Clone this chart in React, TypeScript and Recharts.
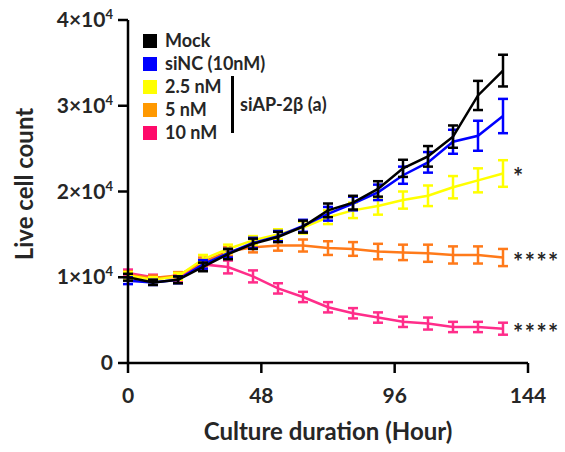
import { LineChart, Line, XAxis, YAxis, ErrorBar, LabelList, Label } from 'recharts'

const HOURS = [0, 9, 18, 27, 36, 45, 54, 63, 72, 81, 90, 99, 108, 117, 126, 135]

const MOCK = [10000, 9400, 9700, 11200, 12700, 13900, 14700, 15900, 17800, 18700, 20300, 22700, 24100, 26400, 31200, 34100]
const MOCK_ERR = [400, 300, 400, 500, 600, 600, 600, 700, 800, 800, 900, 1000, 1200, 1300, 1700, 1850]
const SINC = [9600, 9400, 9700, 11500, 12800, 14000, 14800, 16000, 17400, 18600, 19900, 21900, 23400, 25800, 26500, 28800]
const SINC_ERR = [400, 300, 400, 500, 500, 600, 600, 700, 800, 800, 900, 1000, 1200, 1400, 1750, 2000]
const NM25 = [10200, 9700, 10100, 12100, 13300, 14300, 15000, 15800, 17000, 17800, 18300, 19000, 19500, 20500, 21300, 22100]
const NM25_ERR = [400, 300, 400, 500, 500, 500, 600, 700, 800, 900, 1000, 1000, 1200, 1300, 1400, 1550]
const NM5 = [10300, 9900, 10200, 11800, 13000, 13500, 13700, 13700, 13400, 13300, 13000, 12900, 12800, 12600, 12600, 12300]
const NM5_ERR = [400, 300, 400, 500, 500, 600, 600, 700, 800, 800, 900, 900, 1000, 1000, 1000, 1000]
const NM10 = [10500, 10000, 10000, 11500, 11200, 10100, 8700, 7700, 6500, 5800, 5300, 4800, 4600, 4200, 4200, 4000]
const NM10_ERR = [400, 300, 400, 500, 750, 700, 600, 600, 600, 600, 600, 600, 700, 600, 600, 700]

const X_TICKS = [0, 48, 96, 144]
const Y_TICKS = [0, 10000, 20000, 30000, 40000]

const FONT = 'Lato, "Open Sans", sans-serif'
const TEXT = '#262626'

// drawn back to front, so Mock ends up on top
const SERIES = [
  { key: 'nm10', label: '10 nM', values: NM10, err: NM10_ERR, color: '#FF2D8A', swatch: '#FF0A6A', stars: '****' },
  { key: 'nm5', label: '5 nM', values: NM5, err: NM5_ERR, color: '#FF7A1A', swatch: '#FF9900', stars: '****' },
  { key: 'nm25', label: '2.5 nM', values: NM25, err: NM25_ERR, color: '#FFFF00', swatch: '#FFFF00', stars: '*' },
  { key: 'sinc', label: 'siNC (10nM)', values: SINC, err: SINC_ERR, color: '#0000FF', swatch: '#0000FF', stars: '' },
  { key: 'mock', label: 'Mock', values: MOCK, err: MOCK_ERR, color: '#000000', swatch: '#000000', stars: '' },
]

const LEGEND_ORDER = ['mock', 'sinc', 'nm25', 'nm5', 'nm10']

const data = HOURS.map((h, i) => {
  const row: Record<string, number> = { hour: h }
  SERIES.forEach((s) => {
    row[s.key] = s.values[i]
    row[s.key + 'Err'] = s.err[i]
  })
  return row
})

function YTick(props: any) {
  const { x, y, payload } = props
  const v = payload.value
  if (v === 0) {
    return (
      <text x={x} y={y + 7} textAnchor="end" fontFamily={FONT} fontWeight={700} fontSize={21} fill={TEXT}>
        0
      </text>
    )
  }
  return (
    <text x={x} y={y + 7} textAnchor="end" fontFamily={FONT} fontWeight={700} fontSize={21} fill={TEXT}>
      {`${v / 10000}×10`}
      <tspan fontSize={13} dy={-8}>4</tspan>
    </text>
  )
}

function XTick(props: any) {
  const { x, y, payload } = props
  return (
    <text x={x} y={y + 16} textAnchor="middle" fontFamily={FONT} fontWeight={700} fontSize={21} fill={TEXT}>
      {payload.value}
    </text>
  )
}

function Legend() {
  const rows = LEGEND_ORDER.map((k) => SERIES.find((s) => s.key === k)!)
  return (
    <div style={{ position: 'absolute', left: 143, top: 29, fontFamily: FONT, fontWeight: 700, fontSize: 18, color: TEXT }}>
      {rows.map((s) => (
        <div key={s.key} style={{ display: 'flex', alignItems: 'center', height: 23 }}>
          <div style={{ width: 14, height: 14, background: s.swatch, marginRight: 8 }} />
          <span style={{ lineHeight: '23px' }}>{s.label}</span>
        </div>
      ))}
      <div style={{ position: 'absolute', left: 88, top: 47, width: 3, height: 57, background: '#000' }} />
      <div style={{ position: 'absolute', left: 97, top: 64, whiteSpace: 'nowrap', lineHeight: '23px' }}>siAP-2β (a)</div>
    </div>
  )
}

export default function App() {
  return (
    <div style={{ position: 'absolute', left: 0, top: 0, width: 565, height: 452, background: '#fff' }}>
      <LineChart width={565} height={452} data={data} margin={{ top: 20, right: 37, left: 28, bottom: 0 }}>
        <XAxis
          dataKey="hour"
          type="number"
          domain={[0, 144]}
          ticks={X_TICKS}
          tick={XTick}
          tickSize={10}
          tickMargin={14}
          height={89}
          axisLine={{ stroke: '#000', strokeWidth: 2.5 }}
          tickLine={{ stroke: '#000', strokeWidth: 2.5 }}
        >
          <Label
            content={() => (
              <text x={328} y={440} textAnchor="middle" fontFamily={FONT} fontWeight={700} fontSize={24} fill={TEXT}>
                Culture duration (Hour)
              </text>
            )}
          />
        </XAxis>
        <YAxis
          type="number"
          domain={[0, 40000]}
          ticks={Y_TICKS}
          tick={YTick}
          tickSize={10}
          tickMargin={5}
          width={100}
          axisLine={{ stroke: '#000', strokeWidth: 2.5 }}
          tickLine={{ stroke: '#000', strokeWidth: 2.5 }}
        >
          <Label
            content={() => (
              <text
                x={33}
                y={184}
                transform="rotate(-90 33 184)"
                textAnchor="middle"
                fontFamily={FONT}
                fontWeight={700}
                fontSize={24}
                fill={TEXT}
              >
                Live cell count
              </text>
            )}
          />
        </YAxis>
        {SERIES.map((s) => (
          <Line
            key={s.key}
            dataKey={s.key}
            stroke={s.color}
            strokeWidth={2.5}
            dot={false}
            activeDot={false}
            isAnimationActive={false}
            type="linear"
          >
            <ErrorBar dataKey={s.key + 'Err'} direction="y" width={5} stroke={s.color} strokeWidth={2.5} />
            {s.stars && (
              <LabelList
                dataKey={s.key}
                content={(p: any) =>
                  p.index === HOURS.length - 1 ? (
                    <text
                      x={p.x + 10}
                      y={p.y + 13}
                      fontFamily={FONT}
                      fontWeight={700}
                      fontSize={24}
                      letterSpacing={1.5}
                      fill={TEXT}
                    >
                      {s.stars}
                    </text>
                  ) : null
                }
              />
            )}
          </Line>
        ))}
      </LineChart>
      <Legend />
    </div>
  )
}
